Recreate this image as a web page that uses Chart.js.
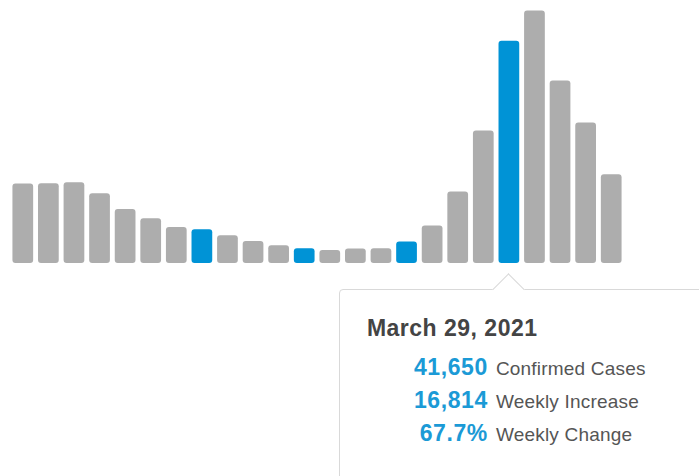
<!DOCTYPE html>
<html>
<head>
<meta charset="utf-8">
<script src="https://cdn.jsdelivr.net/npm/chart.js@4"></script>
<style>
  html, body { margin: 0; padding: 0; background: #fff; overflow: hidden; }
  body { width: 699px; height: 476px; position: relative; font-family: "Liberation Sans", Arial, sans-serif; }
  #chart { position: absolute; left: 0; top: 0; }
  #tip { position: absolute; background: #fff; border: 1.5px solid #d9d9d9; border-radius: 4px; width: 420px; height: 260px; }
  #tip .arrow { position: absolute; width: 22px; height: 22px; background: #fff; border-left: 1.5px solid #d9d9d9; border-top: 1.5px solid #d9d9d9; transform: rotate(45deg); top: -12.5px; }
  #tip .title { position: absolute; left: 27px; top: 25px; font-weight: bold; font-size: 23px; line-height: 26px; color: #444; letter-spacing: 0.5px; white-space: nowrap; }
  #tip .row { position: absolute; left: 0; height: 33px; line-height: 33px; white-space: nowrap; }
  #tip .num { display: inline-block; width: 148px; text-align: right; font-weight: bold; font-size: 23px; color: #1b9ad6; letter-spacing: 0.6px; }
  #tip .lbl { display: inline-block; margin-left: 8px; font-size: 19px; color: #555; letter-spacing: 0.2px; }
</style>
</head>
<body>
<canvas id="chart" width="699" height="263"></canvas>
<div id="tip"></div>
<script>
// weekly confirmed cases
var weeks = ["November 16, 2020", "November 23, 2020", "November 30, 2020", "December 7, 2020",
    "December 14, 2020", "December 21, 2020", "December 28, 2020", "January 4, 2021",
    "January 11, 2021", "January 18, 2021", "January 25, 2021", "February 1, 2021",
    "February 8, 2021", "February 15, 2021", "February 22, 2021", "March 1, 2021",
    "March 8, 2021", "March 15, 2021", "March 22, 2021", "March 29, 2021",
    "April 5, 2021", "April 12, 2021", "April 19, 2021", "April 26, 2021"];
var cases = [14900, 14950, 15140, 13080, 10130, 8390, 6750, 6320, 5200, 4130, 3320, 2760,
    2440, 2700, 2760, 4020, 7020, 13400, 24836, 41650, 47350, 34220, 26340, 16640];
var highlightWeeks = ["January 4, 2021", "February 1, 2021", "March 1, 2021", "March 29, 2021"];
var selectedWeek = "March 29, 2021";
var rowLabels = ["Confirmed Cases", "Weekly Increase", "Weekly Change"];

var grey = "#adadad";
var blue = "#0093d6";

var barColors = [];
for (let i = 0; i < weeks.length; i++) {
    barColors.push(highlightWeeks.indexOf(weeks[i]) > -1 ? blue : grey);
}

// position the fixed tooltip under the selected bar
var tipPlugin = {
    id: "tipPlugin",
    afterRender: function (chart) {
        var idx = weeks.indexOf(selectedWeek);
        var bar = chart.getDatasetMeta(0).data[idx];
        var tip = document.getElementById("tip");
        var boxTop = chart.chartArea.bottom + 26;
        tip.style.left = (bar.x - 170) + "px";
        tip.style.top = boxTop + "px";
        tip.querySelector(".arrow").style.left = (170 - 12.5) + "px";
    }
};

function fillTip() {
    var idx = weeks.indexOf(selectedWeek);
    var cur = cases[idx];
    var inc = cur - cases[idx - 1];
    var pct = (inc * 100 / cases[idx - 1]).toFixed(1) + "%";
    var nums = [cur.toLocaleString("en-US"), inc.toLocaleString("en-US"), pct];
    var html = "<div class=\"arrow\"></div><div class=\"title\">" + selectedWeek + "</div>";
    for (let i = 0; i < nums.length; i++) {
        html += "<div class=\"row\" style=\"top:" + (61 + i * 33) + "px\"><span class=\"num\">" + nums[i] +
            "</span><span class=\"lbl\">" + rowLabels[i] + "</span></div>";
    }
    document.getElementById("tip").innerHTML = html;
}
fillTip();

var ctx = document.getElementById("chart").getContext("2d");
var myChart = new Chart(ctx, {
    type: "bar",
    data: {
        labels: weeks,
        datasets: [{
            data: cases,
            backgroundColor: barColors,
            borderRadius: 3,
            borderSkipped: false,
            categoryPercentage: 1,
            barPercentage: 0.81
        }]
    },
    options: {
        responsive: false,
        animation: false,
        layout: { padding: { left: 10, right: 75, top: 0, bottom: 0 } },
        plugins: { legend: { display: false }, tooltip: { enabled: false } },
        scales: {
            x: { display: false },
            y: { display: false, min: 0, max: 49300 }
        }
    },
    plugins: [tipPlugin]
});
</script>
</body>
</html>
